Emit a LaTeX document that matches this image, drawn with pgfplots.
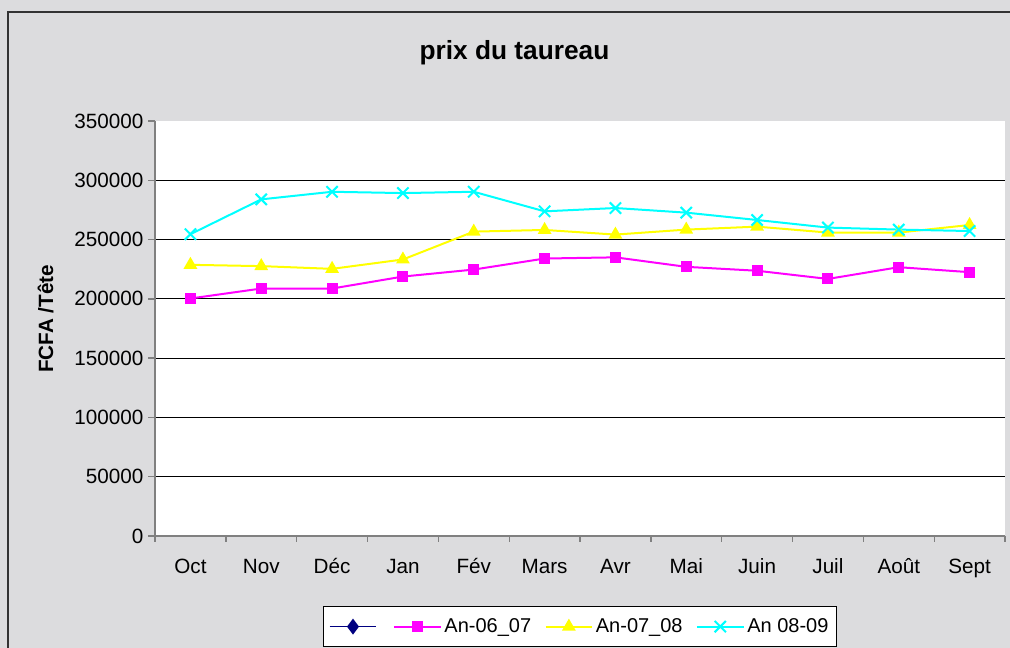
\documentclass[border=0pt]{standalone}
\usepackage{pgfplots}
\pgfplotsset{compat=1.18}
\usepackage{fontspec}
\setmainfont{Liberation Sans}
\definecolor{marble}{RGB}{220,220,222}
\definecolor{axgray}{RGB}{128,128,128}
\definecolor{cMag}{RGB}{255,0,255}
\definecolor{cYel}{RGB}{255,255,0}
\definecolor{cCya}{RGB}{0,255,255}
\definecolor{cNav}{RGB}{0,0,128}
\pgfplotstableread{
x v
0 200300
1 208700
2 208700
3 218800
4 224700
5 234000
6 235000
7 227000
8 223700
9 216800
10 226700
11 222500
}\anA
\pgfplotstableread{
x v
0 228700
1 227600
2 225300
3 233200
4 256700
5 258100
6 254200
7 258400
8 260900
9 255900
10 255900
11 262300
}\anB
\pgfplotstableread{
x v
0 254500
1 283900
2 290300
3 289200
4 290300
5 273800
6 276600
7 272700
8 266500
9 260100
10 258400
11 257200
}\anC
\begin{document}
\begin{tikzpicture}[x=0.75pt,y=0.75pt]
\clip (0,0) rectangle (1010,648);
\fill[marble] (0,0) rectangle (1010,648);
\draw[black!80, line width=1.5pt] (8,-10) -- (8,635.5) -- (1020,635.5);
\node[anchor=base, font=\fontsize{19.7}{23}\selectfont\bfseries] at (514.5,588) {prix du taureau};
\node[rotate=90, font=\fontsize{15.5}{18}\selectfont\bfseries] at (45.5,329) {FCFA /Tête};
\begin{axis}[
  at={(116.25pt,84pt)}, anchor=south west,
  scale only axis, width=637.5pt, height=311.25pt,
  xmin=-0.5, xmax=11.5, ymin=0, ymax=350000,
  axis background/.style={fill=white},
  axis x line*=bottom, axis y line*=left,
  axis line style={axgray, line width=1pt, -},
  xtick={0,...,11},
  xticklabels={Oct,Nov,Déc,Jan,Fév,Mars,Avr,Mai,Juin,Juil,Août,Sept},
  major x tick style={draw=none},
  minor xtick={-0.5,0.5,...,11.5},
  minor x tick style={axgray, line width=1pt},
  minor tick length=4.5pt,
  ytick={0,50000,100000,150000,200000,250000,300000},
  yticklabels={0,50000,100000,150000,200000,250000,300000},
  extra y ticks={350000},
  extra y tick labels={350000},
  extra y tick style={grid=none},
  ymajorgrids,
  major grid style={black, line width=0.75pt},
  major y tick style={axgray, line width=1pt},
  major tick length=5.25pt,
  tick align=outside,
  scaled y ticks=false,
  yticklabel style={xshift=0pt, font=\fontsize{15.5}{18}\selectfont},
  xticklabel style={font=\fontsize{15.5}{18}\selectfont, text height=11.5pt, text depth=3pt, yshift=-8.2pt},
  legend columns=4,
  legend style={at={(0.5,-0.169)}, anchor=north, draw=black, fill=white,
    line width=0.75pt, font=\fontsize{15}{18}\selectfont,
    inner xsep=4pt, inner ysep=7pt,
    nodes={inner xsep=2pt},
    /tikz/every even column/.append style={column sep=8pt},
    /tikz/every odd column/.append style={column sep=0pt}},
  legend image code/.code={\draw[mark repeat=2,mark phase=2] plot coordinates {(0pt,0pt) (17.5pt,0pt) (35pt,0pt)};},
]
\addlegendimage{color=cNav, line width=1.2pt, mark=diamond*, mark size=5pt, mark options={fill=cNav}}
\addlegendentry{}
\addplot[cMag, line width=1.5pt, mark=square*, mark size=3.4pt, mark options={fill=cMag}] table[x=x,y=v] {\anA};
\addlegendentry{An-06\_07}
\addplot[cYel, line width=1.5pt, mark=triangle*, mark size=4.5pt, mark options={fill=cYel}] table[x=x,y=v] {\anB};
\addlegendentry{An-07\_08}
\addplot[cCya, line width=1.5pt, mark=x, mark size=6pt] table[x=x,y=v] {\anC};
\addlegendentry{An 08-09}
\end{axis}
\end{tikzpicture}
\end{document}
